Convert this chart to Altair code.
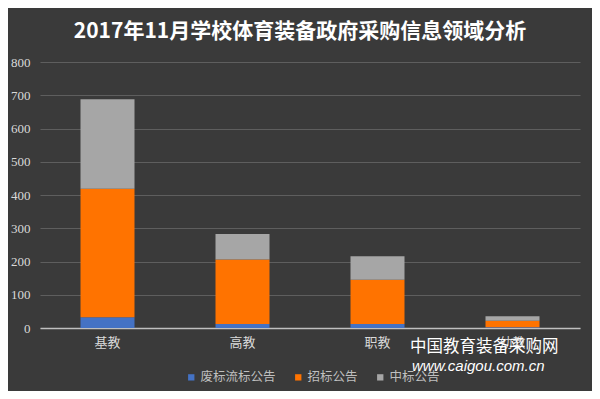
import altair as alt
import pandas as pd

categories = ["基教", "高教", "职教", "幼教"]
series = ["废标流标公告", "招标公告", "中标公告"]
fei_biao = [32, 12, 12, 2]
zhao_biao = [387, 194, 133, 20]
zhong_biao = [269, 77, 71, 13]
colors = ["#4472C4", "#FF7300", "#A6A6A6"]

rows = []
for i, c in enumerate(categories):
    for k, (s, vals) in enumerate(zip(series, [fei_biao, zhao_biao, zhong_biao])):
        rows.append({"cat": c, "series": s, "value": vals[i], "ord": k})
df = pd.DataFrame(rows)

CJK = "Noto Sans CJK SC"

bars = alt.Chart(df).mark_bar().encode(
    x=alt.X("cat:N", sort=categories, title=None,
            scale=alt.Scale(paddingInner=0.6, paddingOuter=0.3),
            axis=alt.Axis(labelAngle=0, labelFont=CJK, labelFontSize=13,
                          labelColor="#d9d9d9", domainColor="#bfbfbf",
                          domainWidth=1.5, ticks=False, labelPadding=8)),
    y=alt.Y("value:Q", title=None, stack="zero",
            scale=alt.Scale(domain=[0, 800]),
            axis=alt.Axis(values=list(range(0, 801, 100)), domain=False, ticks=False,
                          labelFont="Liberation Serif", labelFontSize=13,
                          labelColor="#d9d9d9", labelPadding=10,
                          gridColor="#5e5e5e", gridWidth=1)),
    color=alt.Color("series:N", sort=series,
                    scale=alt.Scale(domain=series, range=colors),
                    legend=alt.Legend(title=None, orient="none", direction="horizontal",
                                      legendX=145, legendY=309,
                                      symbolType="square", symbolSize=40,
                                      symbolStrokeWidth=0,
                                      labelFont=CJK, labelFontSize=12.5,
                                      labelColor="#bfbfbf", columnPadding=16,
                                      labelOffset=3)),
    order=alt.Order("ord:Q", sort="ascending"),
)

wm1 = alt.Chart(pd.DataFrame({"t": ["中国教育装备采购网"]})).mark_text(
    font=CJK, fontSize=16.5, color="#ffffff", align="left", baseline="middle"
).encode(x=alt.value(370), y=alt.value(285), text="t:N")
wm2 = alt.Chart(pd.DataFrame({"t": ["www.caigou.com.cn"]})).mark_text(
    font="Liberation Sans", fontSize=15, fontStyle="italic", color="#ffffff",
    align="left", baseline="middle"
).encode(x=alt.value(372), y=alt.value(304), text="t:N")

chart = alt.layer(bars, wm1, wm2).properties(
    width=540, height=266,
    title=alt.TitleParams("2017年11月学校体育装备政府采购信息领域分析",
                          font=CJK, fontSize=21, fontWeight="bold", color="#ffffff",
                          anchor="middle", offset=14, dx=-10),
    background="#3a3a3a",
    autosize=alt.AutoSizeParams(type="none"),
    padding={"left": 32, "top": 54, "right": 12, "bottom": 63},
).configure_view(stroke=None)

chart.save("out.html", embed_options={"renderer": "svg", "actions": False})
